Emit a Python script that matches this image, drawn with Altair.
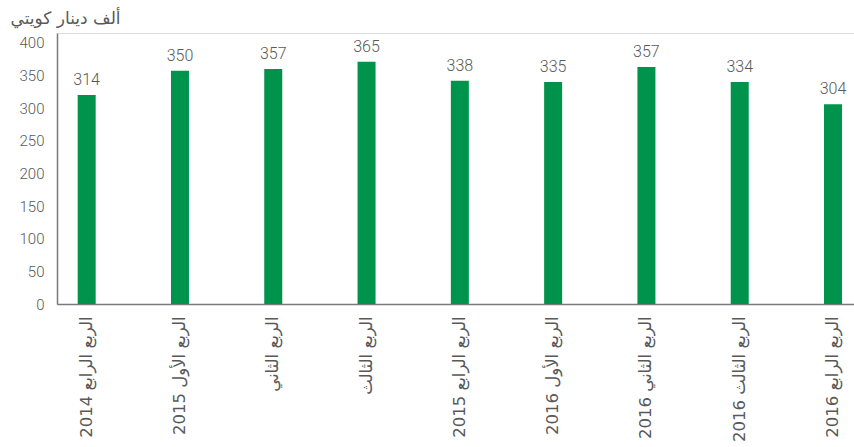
import altair as alt
import pandas as pd

categories = [
    "الربع الرابع 2014",
    "الربع الأول 2015",
    "الربع الثاني",
    "الربع الثالث",
    "الربع الرابع 2015",
    "الربع الأول 2016",
    "الربع الثاني 2016",
    "الربع الثالث 2016",
    "الربع الرابع 2016",
]
# bar heights as drawn in the picture
bar_values = [320, 357, 360, 371, 342, 340, 363, 340, 306]
# printed data labels
label_values = [314, 350, 357, 365, 338, 335, 357, 334, 304]
y_ticks = [0, 50, 100, 150, 200, 250, 300, 350, 400]
y_title = "ألف دينار كويتي"

df = pd.DataFrame({"cat": categories, "v": bar_values, "lab": [str(v) for v in label_values]})

GREEN = "#00934C"
GRAY = "#595959"
AXIS = "#7a7a7a"
FONT = "Roboto"
FONT_AR = "DejaVu Sans"

x = alt.X(
    "cat:N",
    sort=None,
    title=None,
    scale=alt.Scale(paddingInner=0.807, paddingOuter=0.175, align=0.633),
    axis=alt.Axis(
        labelAngle=-90,
        labelFontSize=16.5,
        labelColor=GRAY,
        labelFont=FONT_AR,
        labelPadding=12,
        labelLimit=300,
        ticks=False,
        domainColor=AXIS,
        domainWidth=1.5,
    ),
)

y = alt.Y(
    "v:Q",
    scale=alt.Scale(domain=[0, 415], nice=False, zero=True),
    axis=alt.Axis(
        values=y_ticks,
        grid=False,
        ticks=False,
        labelFontSize=15,
        labelColor=GRAY,
        labelFont=FONT,
        labelFontWeight=300,
        labelPadding=13,
        domainColor=AXIS,
        domainWidth=1.5,
        title=y_title,
        titleAngle=0,
        titleAlign="left",
        titleBaseline="middle",
        titleX=-47,
        titleY=-15,
        titleFontSize=17,
        titleFontWeight="normal",
        titleColor=GRAY,
        titleFont=FONT_AR,
    ),
)

bars = alt.Chart(df).mark_bar(color=GREEN).encode(x=x, y=y)
labels = alt.Chart(df).mark_text(
    baseline="alphabetic", dy=-10, fontSize=16, color=GRAY, font=FONT, fontWeight=300
).encode(x=x, y=y, text="lab:N")

chart = (
    alt.layer(bars, labels)
    .properties(
        width=797,
        height=271,
        autosize=alt.AutoSizeParams(type="none"),
        padding={"left": 57, "top": 33, "right": 0, "bottom": 143},
    )
    .configure_view(stroke=None)
    .configure(background="white")
)

chart.save("out.html", embed_options={"renderer": "svg", "actions": False})
